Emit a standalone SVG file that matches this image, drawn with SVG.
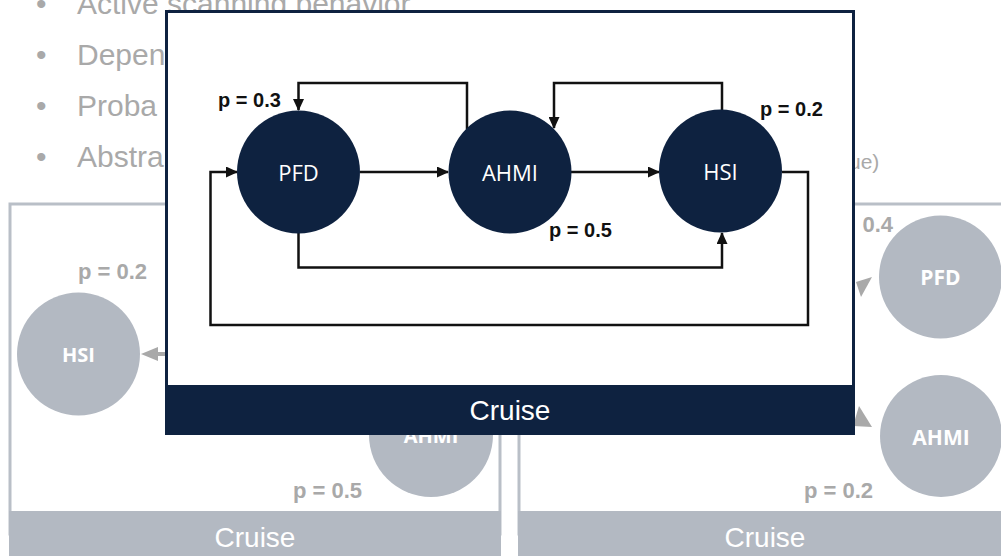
<svg xmlns="http://www.w3.org/2000/svg" width="1001" height="556" viewBox="0 0 1001 556">
  <style>
    .bullet { font-family: "Liberation Sans", Arial, sans-serif; font-size: 30px; fill: #a9a9a9; }
    .panel-frame { fill: #ffffff; stroke: #b9bfc7; stroke-width: 3; }
    .panel-band { fill: #b3b9c2; }
    .band-label { font-family: "Liberation Sans", Arial, sans-serif; font-size: 28px; fill: #ffffff; text-anchor: middle; }
    .ghost-node { fill: #b3b9c2; }
    .ghost-text { font-family: "Open Sans", "Noto Sans", sans-serif; font-weight: bold; font-size: 20px; fill: #ffffff; text-anchor: middle; }
    .ghost-prob { font-family: "Liberation Sans", Arial, sans-serif; font-weight: bold; font-size: 22px; fill: #a9a9a9; }
    .ghost-arrow { fill: #a9a9a9; }
    .state { fill: #0e2240; }
    .state-text { font-family: "Open Sans", "Noto Sans", sans-serif; font-size: 22px; fill: #ffffff; text-anchor: middle; }
    .prob { font-family: "Liberation Sans", Arial, sans-serif; font-weight: bold; font-size: 20px; fill: #111111; }
    .edge { fill: none; stroke: #111111; stroke-width: 2.5; marker-end: url(#head); }
  </style>
  <defs>
    <marker id="head" markerUnits="userSpaceOnUse" markerWidth="12" markerHeight="11" refX="11" refY="5.5" orient="auto">
      <path d="M0,0 L12,5.5 L0,11 Z" fill="#111111"/>
    </marker>
  </defs>

  <rect width="1001" height="556" fill="#ffffff"/>

  <!-- slide bullets behind the popup -->
  <g id="bullets">
    <text class="bullet" x="36" y="14">•</text>
    <text class="bullet" x="77" y="14">Active scanning behavior</text>
    <text class="bullet" x="36" y="65">•</text>
    <text class="bullet" x="77" y="65">Depen</text>
    <text class="bullet" x="36" y="116">•</text>
    <text class="bullet" x="77" y="116">Proba</text>
    <text class="bullet" x="36" y="167">•</text>
    <text class="bullet" x="77" y="167">Abstra</text>
    <text class="bullet" x="849" y="169" style="font-size:21px">ue)</text>
  </g>

  <!-- left faded cruise panel -->
  <g id="panel-left">
    <rect class="panel-frame" x="10" y="204" width="490" height="330"/>
    <rect class="panel-band" x="9" y="511" width="492" height="45"/>
    <text class="band-label" x="255" y="547">Cruise</text>
    <text class="ghost-prob" x="78" y="279">p = 0.2</text>
    <circle class="ghost-node" cx="78.5" cy="354" r="61.5"/>
    <text class="ghost-text" x="78.5" y="362">HSI</text>
    <path class="ghost-arrow" d="M141,354 L158,347 L158,361 Z"/>
    <rect class="ghost-arrow" x="157" y="352" width="10" height="4"/>
    <circle class="ghost-node" cx="431" cy="435" r="62"/>
    <text class="ghost-text" x="431" y="443">AHMI</text>
    <text class="ghost-prob" x="293" y="498">p = 0.5</text>
  </g>

  <!-- right faded cruise panel -->
  <g id="panel-right">
    <rect class="panel-frame" x="519" y="204" width="490" height="330"/>
    <rect class="panel-band" x="518" y="511" width="492" height="45"/>
    <text class="band-label" x="765" y="547">Cruise</text>
    <text class="ghost-prob" x="893" y="232" text-anchor="end">0.4</text>
    <circle class="ghost-node" cx="940.5" cy="277" r="61.5"/>
    <text class="ghost-text" x="940.5" y="285" style="font-size:21px">PFD</text>
    <path class="ghost-arrow" d="M872,277 L856,282 L861,297 Z"/>
    <circle class="ghost-node" cx="941" cy="436" r="61"/>
    <text class="ghost-text" x="941" y="445" style="font-size:21px">AHMI</text>
    <path class="ghost-arrow" d="M859,406 L872,427 L853,426 Z"/>
    <text class="ghost-prob" x="804" y="498">p = 0.2</text>
  </g>

  <!-- popup frame -->
  <g id="popup">
    <rect x="166.5" y="11.5" width="687" height="422" fill="#ffffff" stroke="#0e2240" stroke-width="3"/>
    <rect x="165" y="385" width="690" height="50" fill="#0e2240"/>
    <text class="band-label" x="510" y="420">Cruise</text>
  </g>

  <!-- transitions -->
  <g id="connectors">
    <path class="edge" d="M360,172 H448"/>
    <path class="edge" d="M571,172 H659"/>
    <path class="edge" d="M467,129 V83 H298.5 V110"/>
    <path class="edge" d="M722,110 V83 H554 V128"/>
    <path class="edge" d="M782,172 H808 V325 H210.5 V172 H237"/>
    <path class="edge" d="M298.5,233 V267.5 H722 V233"/>
  </g>

  <g id="labels">
    <text class="prob" x="218" y="107">p = 0.3</text>
    <text class="prob" x="760" y="116">p = 0.2</text>
    <text class="prob" x="549" y="237">p = 0.5</text>
  </g>

  <g id="node-pfd">
    <circle class="state" cx="298.5" cy="172" r="61.5"/>
    <text class="state-text" x="298.5" y="181">PFD</text>
  </g>
  <g id="node-ahmi">
    <circle class="state" cx="510" cy="172" r="61.5"/>
    <text class="state-text" x="510" y="181">AHMI</text>
  </g>
  <g id="node-hsi">
    <circle class="state" cx="720.5" cy="171" r="61.5"/>
    <text class="state-text" x="720.5" y="180">HSI</text>
  </g>
</svg>
